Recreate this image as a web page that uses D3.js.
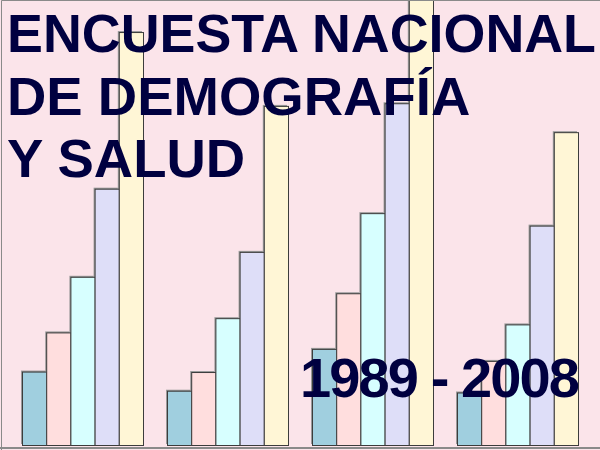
<!DOCTYPE html>
<html>
<head>
<meta charset="utf-8">
<script src="https://cdn.jsdelivr.net/npm/d3@7/dist/d3.min.js"></script>
<style>
  html, body { margin: 0; padding: 0; background: #fff; }
  svg { display: block; }
</style>
</head>
<body>
<div id="chart"></div>
<script>
// ==============================
// DATA
// ==============================
const groups = ["G1", "G2", "G3", "G4"];
const series = ["S1", "S2", "S3", "S4", "S5"];
const seriesColors = ["#a0cfdf", "#ffdede", "#d7ffff", "#dedef8", "#fff6d6"];
const values = [
    [16.5, 25.3, 37.8, 57.6, 92.8],
    [12.2, 16.4, 28.5, 43.4, 76.2],
    [21.6, 34.1, 52.1, 76.8, 110],
    [11.8, 18.9, 27.1, 49.3, 70.3]
];
const titleLines = ["ENCUESTA NACIONAL", "DE DEMOGRAFÍA", "Y SALUD"];
const yearsLabel = "1989 - 2008";

// ==============================
// SETUP
// ==============================
const width = 600, height = 450;
const plotTop = 0, plotBottom = 445;

const svg = d3.select("#chart").append("svg")
    .attr("width", width).attr("height", height);

svg.append("rect").attr("width", width).attr("height", height).attr("fill", "#fbe4ea");

svg.append("clipPath").attr("id", "plot-clip")
    .append("rect").attr("x", 0).attr("y", 1).attr("width", width).attr("height", plotBottom);

const x0 = d3.scaleBand().domain(groups).range([10, 590]);
const x1 = d3.scaleBand().domain(series).range([12, 133]);
const y = d3.scaleLinear().domain([0, 100]).range([plotBottom, plotTop]);

// ==============================
// BARS
// ==============================
const bars = svg.append("g").attr("clip-path", "url(#plot-clip)");

const groupSel = bars.selectAll("g.group")
    .data(values)
    .join("g")
    .attr("class", "group")
    .attr("transform", (d, i) => `translate(${x0(groups[i])},0)`);

// shadow
groupSel.selectAll("rect.shadow")
    .data(d => d.map((v, j) => ({ v, s: series[j] })))
    .join("rect")
    .attr("class", "shadow")
    .attr("x", d => x1(d.s) - 1)
    .attr("y", d => y(d.v) - 1)
    .attr("width", x1.bandwidth())
    .attr("height", d => y(0) - y(d.v))
    .attr("fill", "#9a9a9a");

groupSel.selectAll("rect.bar")
    .data(d => d.map((v, j) => ({ v, s: series[j], c: seriesColors[j] })))
    .join("rect")
    .attr("class", "bar")
    .attr("x", d => x1(d.s) + 0.5)
    .attr("y", d => y(d.v) + 0.5)
    .attr("width", x1.bandwidth())
    .attr("height", d => y(0) - y(d.v))
    .attr("fill", d => d.c)
    .attr("stroke", "#3c3c3c")
    .attr("stroke-width", 1);

// frame
svg.append("path")
    .attr("d", `M1.5,${height} V0.5 H${width}`)
    .attr("fill", "none").attr("stroke", "#8a8a8a");
svg.append("line")
    .attr("x1", 0).attr("x2", width).attr("y1", 448).attr("y2", 448)
    .attr("stroke", "#8a8a8a").attr("stroke-width", 2);

// ==============================
// TEXT
// ==============================
svg.append("g").selectAll("text")
    .data(titleLines)
    .join("text")
    .attr("x", 7)
    .attr("y", (d, i) => 52 + i * 62.5)
    .attr("font-family", "Liberation Sans, Arial, sans-serif")
    .attr("font-weight", "bold")
    .attr("font-size", 54.5)
    .attr("fill", "#000040")
    .each(function (d, i) {
        if (i === 0) d3.select(this).attr("textLength", 589).attr("lengthAdjust", "spacingAndGlyphs");
    })
    .text(d => d);

svg.append("text")
    .attr("x", 300)
    .attr("y", 397)
    .attr("font-family", "Liberation Sans, Arial, sans-serif")
    .attr("font-weight", "bold")
    .attr("font-size", 56)
    .attr("textLength", 280)
    .attr("lengthAdjust", "spacing")
    .attr("fill", "#000040")
    .text(yearsLabel);
</script>
</body>
</html>
